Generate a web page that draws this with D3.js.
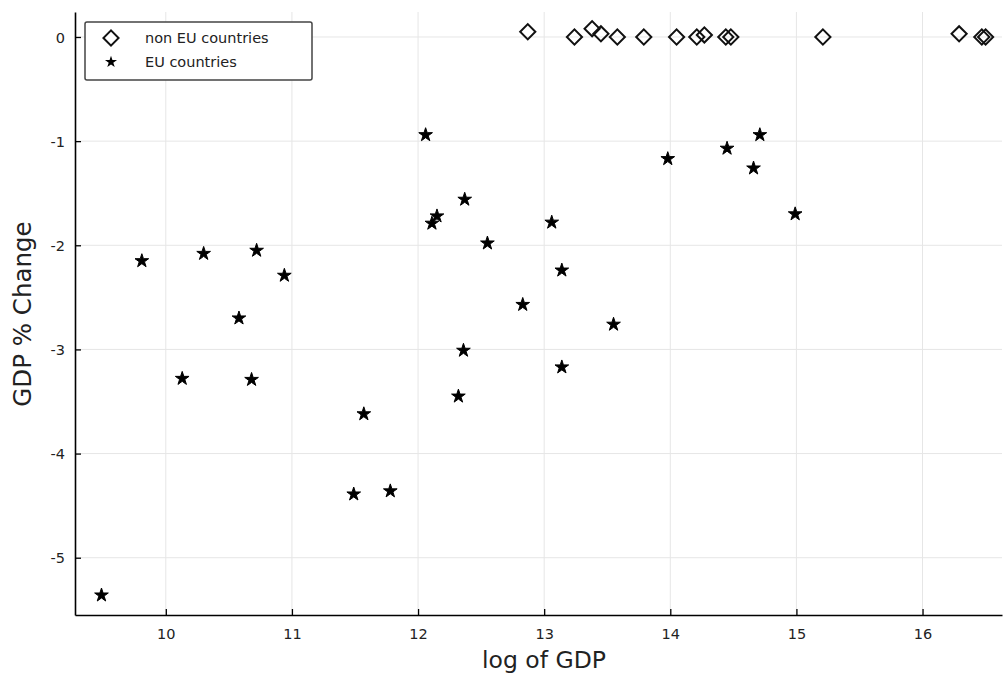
<!DOCTYPE html>
<html>
<head>
<meta charset="utf-8">
<script src="https://cdn.jsdelivr.net/npm/d3@7"></script>
<style>
  body { margin: 0; background: #fff; }
  svg text { font-family: "DejaVu Sans", sans-serif; }
</style>
</head>
<body>
<svg class="chart"></svg>
<script>
// EU countries (log GDP, GDP % change)
var euX = [9.49, 9.81, 10.13, 10.30, 10.58, 10.68, 10.72, 10.94, 11.49, 11.57, 11.78,
           12.06, 12.11, 12.15, 12.37, 12.55, 12.32, 12.36, 12.83, 13.06, 13.14, 13.14,
           13.55, 13.98, 14.45, 14.66, 14.71, 14.99];
var euY = [-5.36, -2.15, -3.28, -2.08, -2.70, -3.29, -2.05, -2.29, -4.39, -3.62, -4.36,
           -0.94, -1.79, -1.72, -1.56, -1.98, -3.45, -3.01, -2.57, -1.78, -2.24, -3.17,
           -2.76, -1.17, -1.07, -1.26, -0.94, -1.70];
// non EU countries
var nonX = [12.87, 13.24, 13.38, 13.45, 13.58, 13.79, 14.05, 14.21, 14.27, 14.44, 14.48,
            15.21, 16.29, 16.47, 16.50];
var nonY = [0.05, 0.0, 0.08, 0.03, 0.0, 0.0, 0.0, 0.0, 0.02, 0.0, 0.0,
            0.0, 0.03, 0.0, 0.0];
var xTicks = [10, 11, 12, 13, 14, 15, 16];
var yTicks = [0, -1, -2, -3, -4, -5];

var W = 1003, H = 673;
var margin = {top: 12, right: 1, bottom: 58, left: 75},
    width = W - margin.left - margin.right,
    height = H - margin.top - margin.bottom;

var svg = d3.select(".chart").attr("width", W).attr("height", H);
var chart = svg.append("g")
    .attr("transform", "translate(" + margin.left + "," + margin.top + ")");

var x = d3.scaleLinear().domain([9.28, 16.63]).range([0, width]);
var y = d3.scaleLinear().domain([-5.55, 0.24]).range([height, 0]);

// grid
chart.append("g").selectAll("line").data(xTicks).enter().append("line")
    .attr("x1", function(d) { return x(d); }).attr("x2", function(d) { return x(d); })
    .attr("y1", 0).attr("y2", height)
    .attr("stroke", "#e6e6e6").attr("stroke-width", 1);
chart.append("g").selectAll("line").data(yTicks).enter().append("line")
    .attr("y1", function(d) { return y(d); }).attr("y2", function(d) { return y(d); })
    .attr("x1", 0).attr("x2", width)
    .attr("stroke", "#e6e6e6").attr("stroke-width", 1);

// axes (ticks pointing inward)
var xAxis = chart.append("g")
    .attr("transform", "translate(0," + height + ")")
    .call(d3.axisBottom(x).tickValues(xTicks).tickSize(-6).tickPadding(16).tickSizeOuter(0));
var yAxis = chart.append("g")
    .call(d3.axisLeft(y).tickValues(yTicks).tickSize(-6).tickPadding(16).tickSizeOuter(0)
      .tickFormat(function(d) { return String(d); }));
[xAxis, yAxis].forEach(function(a) {
  a.select(".domain").attr("stroke", "#000").attr("stroke-width", 1.6);
  a.selectAll(".tick line").attr("stroke", "#000").attr("stroke-width", 1.3);
  a.selectAll(".tick text").attr("fill", "#222").style("font-size", "14.5px")
    .style("font-family", "'DejaVu Sans', sans-serif");
});
yAxis.selectAll(".tick text").attr("dy", "0.35em").attr("x", -10);
xAxis.selectAll(".tick text").attr("y", 14);

var star = d3.symbol().type(d3.symbolStar).size(58);
var diamond = d3.symbol().type(d3.symbolSquare).size(115);

var eu = euX.map(function(v, i) { return {x: v, y: euY[i]}; });
var non = nonX.map(function(v, i) { return {x: v, y: nonY[i]}; });

chart.append("g").selectAll("path").data(non).enter().append("path")
    .attr("d", diamond)
    .attr("transform", function(d) { return "translate(" + x(d.x) + "," + y(d.y) + ") rotate(45)"; })
    .attr("fill", "none").attr("stroke", "#111").attr("stroke-width", 2);

chart.append("g").selectAll("path").data(eu).enter().append("path")
    .attr("d", star)
    .attr("transform", function(d) { return "translate(" + x(d.x) + "," + y(d.y) + ")"; })
    .attr("fill", "#000").attr("stroke", "#000").attr("stroke-width", 1);

// legend
var leg = svg.append("g").attr("transform", "translate(85,22)");
leg.append("rect").attr("width", 227).attr("height", 58).attr("rx", 2)
    .attr("fill", "#fff").attr("stroke", "#444").attr("stroke-width", 1.5);
leg.append("path").attr("d", diamond)
    .attr("transform", "translate(26,16) rotate(45)")
    .attr("fill", "#fff").attr("stroke", "#111").attr("stroke-width", 2);
leg.append("path").attr("d", d3.symbol().type(d3.symbolStar).size(45))
    .attr("transform", "translate(26,40)").attr("fill", "#000");
leg.append("text").attr("x", 60).attr("y", 21).style("font-size", "14.5px").attr("fill", "#222")
    .text("non EU countries");
leg.append("text").attr("x", 60).attr("y", 45).style("font-size", "14.5px").attr("fill", "#222")
    .text("EU countries");

// axis titles
svg.append("text").attr("x", 544).attr("y", 668)
    .attr("text-anchor", "middle").style("font-size", "23.5px").attr("fill", "#222")
    .text("log of GDP");
svg.append("text")
    .attr("transform", "translate(31,314) rotate(-90)")
    .attr("text-anchor", "middle").style("font-size", "24.5px").attr("fill", "#222")
    .text("GDP % Change");
</script>
</body>
</html>
